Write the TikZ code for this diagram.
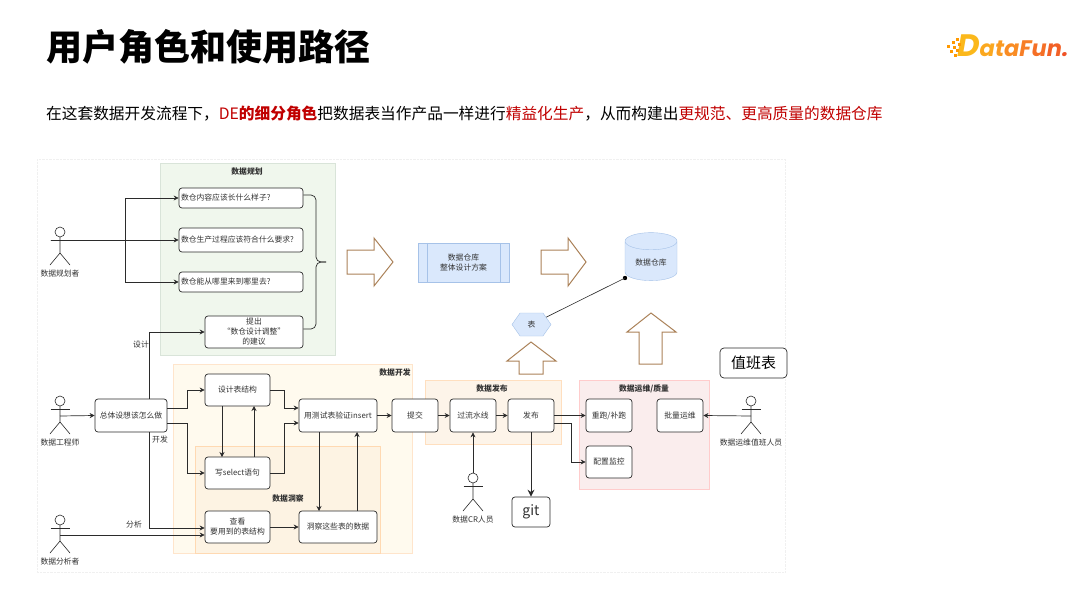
\documentclass[tikz,border=0pt]{standalone}
\usepackage{fontspec}
\setmainfont{Noto Sans CJK SC}
\newfontfamily\logofont{Poppins}
\usetikzlibrary{arrows.meta,shapes.geometric,shapes.symbols}
\definecolor{linegray}{HTML}{2B2B2B}
\definecolor{textgray}{HTML}{333333}
\definecolor{redtext}{HTML}{C00000}
\definecolor{brownline}{HTML}{AB8259}
\definecolor{bluefill}{HTML}{DAE8FC}
\definecolor{blueline}{HTML}{A6C2E8}
\tikzset{
  every node/.style={font=\fontsize{7.8}{10}\selectfont,text=textgray,inner sep=0pt,align=center},
  roundbox/.style={draw=linegray,fill=white,rounded corners=3pt,line width=.7pt},
  qbox/.style={roundbox,text width=120pt,inner xsep=2pt,minimum height=20pt,align=left},
  devbox/.style={roundbox,minimum width=65pt,minimum height=32pt},
  pubbox/.style={roundbox,minimum width=46pt,minimum height=33pt},
  flow/.style={draw=linegray,line width=.7pt,-{Stealth[length=5pt,width=5pt]}},
  hollow/.style={draw=brownline,fill=white,line width=1pt},
  bracket/.style={draw=linegray,line width=.7pt,rounded corners=5pt},
  panellabel/.style={font=\fontsize{7.8}{10}\selectfont\bfseries},
  actor/.pic={
    \draw[linegray,line width=.6pt] (0,0) circle (5pt);
    \draw[linegray,line width=.6pt] (0,5) -- (0,21) (-10,33) -- (0,21) -- (10,33);
    \draw[linegray,line width=.6pt] (-9.5,8) coordinate (-arml) -- (9.5,8);
    \coordinate (-body) at (0,15);
    \coordinate (-top) at (0,-5);
    \node (-label) at (0,42) {#1};
  }
}
\begin{document}
\begin{tikzpicture}[x=1pt,y=-1pt]
  \useasboundingbox (0,0) rectangle (1080,608);
  \node[anchor=west,font=\fontsize{36}{40}\selectfont\bfseries,text=black] (title) at (46,47) {用户角色和使用路径};
  \node[anchor=west,font=\fontsize{15.7}{18}\selectfont,text=black] (subtitle) at (46,114) {在这套数据开发流程下，\textcolor{redtext}{DE\textbf{的细分角色}}把数据表当作产品一样进行\textcolor{redtext}{精益化生产}，从而构建出\textcolor{redtext}{更规范、更高质量的数据仓库}};
  % logo
  \node[anchor=west,font=\fontsize{22.5}{26}\logofont\bfseries\itshape] (logo) at (957,46) {\textcolor[HTML]{FBB81B}{\fontsize{31}{31}\selectfont D}\textcolor[HTML]{FBA81F}{a}\textcolor[HTML]{FA9A22}{t}\textcolor[HTML]{F98C24}{a}\textcolor[HTML]{F77E26}{F}\textcolor[HTML]{F56F26}{u}\textcolor[HTML]{F26026}{n}\textcolor[HTML]{EF5226}{.}};
  \foreach \dx/\dy in {956/38,952/41,958/43,947/45,953/46,950/50,956/49,954/54}
    \fill[orange!80!yellow] (\dx,\dy) rectangle ++(3,3);

  % background sheet
  \draw[black!6,densely dotted,fill=white] (37,159) rectangle (785,572);

  % panels
  \definecolor{planfill}{HTML}{F0F7ED}
  \definecolor{devfill}{HTML}{FFFAEE}
  \definecolor{insightfill}{HTML}{FDF3E3}
  \definecolor{pubfill}{HTML}{FDF4E9}
  \definecolor{opsfill}{HTML}{FAEDED}
  \draw[draw=green!30!black!15,fill=planfill] (160,163) rectangle (335,355);
  \draw[draw=orange!20,fill=devfill] (173,364) rectangle (412,553);
  \draw[draw=orange!30,fill=insightfill] (195,446) rectangle (380,553);
  \draw[draw=orange!25,fill=pubfill] (425,380) rectangle (561,444);
  \draw[draw=red!20,fill=opsfill] (579,380) rectangle (709,489);
  \node[panellabel] (planlabel) at (247,172) {数据规划};
  \node[panellabel] (devlabel) at (395,373) {数据开发};
  \node[panellabel] (insightlabel) at (288,499) {数据洞察};
  \node[panellabel] (publabel) at (492,389) {数据发布};
  \node[panellabel] (opslabel) at (644,389) {数据运维/质量};

  % actors
  \pic (planner) at (60,232) {actor=数据规划者};
  \pic (engineer) at (60,401) {actor=数据工程师};
  \pic (analyst) at (60,520) {actor=数据分析者};
  \pic (reviewer) at (473,478) {actor=数据CR人员};
  \pic (oncall) at (751,401) {actor=数据运维值班人员};

  % planning boxes
  \node[qbox] (content) at (241,198) {数仓内容应该长什么样子?};
  \node[qbox,minimum height=24pt] (process) at (241,240) {数仓生产过程应该符合什么要求?};
  \node[qbox] (lineage) at (241,282) {数仓能从哪里来到哪里去?};
  \node[roundbox,minimum width=98pt,minimum height=32pt] (propose) at (254,332) {提出\\“数仓设计调整”\\的建议};

  % dev boxes
  \node[roundbox,minimum width=72pt,minimum height=33pt] (overall) at (131,415.5) {总体设想该怎么做};
  \node[devbox] (design) at (237.5,390) {设计表结构};
  \node[devbox] (select) at (237.5,473) {写select语句};
  \node[devbox] (view) at (237.5,527) {查看\\要用到的表结构};
  \node[roundbox,minimum width=78pt,minimum height=33pt] (verify) at (338,415.5) {用测试表验证insert};
  \node[roundbox,minimum width=78pt,minimum height=32pt] (insight) at (338,527) {洞察这些表的数据};

  % publish and ops boxes
  \node[pubbox] (submit) at (415,415.5) {提交};
  \node[pubbox] (pipeline) at (473,415.5) {过流水线};
  \node[pubbox] (publish) at (531,415.5) {发布};
  \node[pubbox] (rerun) at (609,415.5) {重跑/补跑};
  \node[pubbox] (batch) at (680,415.5) {批量运维};
  \node[pubbox,minimum height=32pt] (monitor) at (609,462) {配置监控};
  \node[roundbox,minimum width=38pt,minimum height=30pt,font=\fontsize{14}{16}\selectfont] (git) at (531,512) {git};
  \node[roundbox,minimum width=67pt,minimum height=30pt,font=\fontsize{15}{18}\selectfont,text=black,rounded corners=4pt] (duty) at (753.5,363) {值班表};

  % big arrows
  \draw[hollow] (347,250) -- (374,250) -- (374,238) -- (393,262) -- (374,286) -- (374,274) -- (347,274) -- cycle;
  \draw[hollow] (541,250) -- (568,250) -- (568,238) -- (586,262) -- (568,286) -- (568,274) -- (541,274) -- cycle;
  \draw[hollow] (519,374) -- (519,361) -- (507,361) -- (531,342) -- (556,361) -- (543,361) -- (543,374) -- cycle;
  \draw[hollow] (639,364) -- (639,332) -- (627,332) -- (651,313) -- (676,332) -- (662,332) -- (662,364) -- cycle;

  % warehouse
  \node[draw=blueline,fill=bluefill,minimum width=91pt,minimum height=39pt] (plan) at (463.5,262.5) {数据仓库\\整体设计方案};
  \draw[blueline] ([xshift=9pt]plan.north west) -- ([xshift=9pt]plan.south west);
  \draw[blueline] ([xshift=-9pt]plan.north east) -- ([xshift=-9pt]plan.south east);
  \node[cylinder,shape border rotate=90,aspect=.55,draw=blueline,fill=bluefill,minimum width=52pt,minimum height=48pt] (warehouse) at (651,261) {\raisebox{-4pt}[0pt][0pt]{数据仓库}};
  \node[signal,signal to=west and east,signal pointer angle=110,draw=blueline,fill=bluefill,minimum width=39pt,minimum height=23pt] (sheet) at (531.5,324.5) {表};
  \coordinate (warehousefoot) at (625,278);
  \fill[black] (warehousefoot) circle (2.2pt);
  \draw[linegray,line width=.6pt] (sheet) -- (warehousefoot);

  % planner connectors
  \draw[flow] (planner-arml) -- (process.west);
  \draw[flow] (planner-arml) -- (125,240) |- (content.west);
  \draw[flow] (planner-arml) -- (125,240) |- (lineage.west);
  % brace
  \draw[bracket] ([yshift=3pt]content.east) -- (316,195) -- (316,262) -- (326,262);
  \draw[bracket] ([yshift=3pt]propose.east) -- (316,329) -- (316,262) -- (326,262);

  % dev connectors
  \draw[flow] (engineer-body) -- (overall.west);
  \draw[flow] (analyst-body) -- (view.west |- analyst-body);
  \draw[flow] (149,399) |- (propose.west);
  \draw[flow] (149,432) |- ([yshift=-1pt]view.west);
  \draw[flow] ([yshift=7.5pt]overall.east) -- (187,408) |- (design.west);
  \draw[flow] ([yshift=-7.5pt]overall.east) -- (187,423) |- (select.west);
  \draw[flow] (design.east) -- (284,390) |- ([yshift=7.5pt]verify.west);
  \draw[flow] (select.east) -- (284,473) |- ([yshift=-7.5pt]verify.west);
  \draw[flow] (222,406) -- (222,457);
  \draw[flow] (254,457) -- (254,406);
  \draw[flow] (319,432) -- (319,511);
  \draw[flow] (357,511) -- (357,432);
  \draw[flow] (view.east) -- (insight.west);
  \draw[flow] (verify.east) -- (submit.west);
  \draw[flow] (submit.east) -- (pipeline.west);
  \draw[flow] (pipeline.east) -- (publish.west);
  \draw[flow] (publish.east) -- (rerun.west);
  \draw[flow] ([yshift=-7.5pt]publish.east) -- (571,423) |- (monitor.west);
  \draw[flow] (oncall-body) -- (batch.east);
  \draw[flow] (reviewer-top) -- (pipeline.south);
  \draw[draw=linegray,line width=1pt,-{Stealth[length=7pt,width=7pt]}] (publish.south) -- (git.north);

  % route labels
  \node (designroute) at (141,345) {设计};
  \node (devroute) at (160,440) {开发};
  \node (analyzeroute) at (134,525) {分析};
\end{tikzpicture}
\end{document}
